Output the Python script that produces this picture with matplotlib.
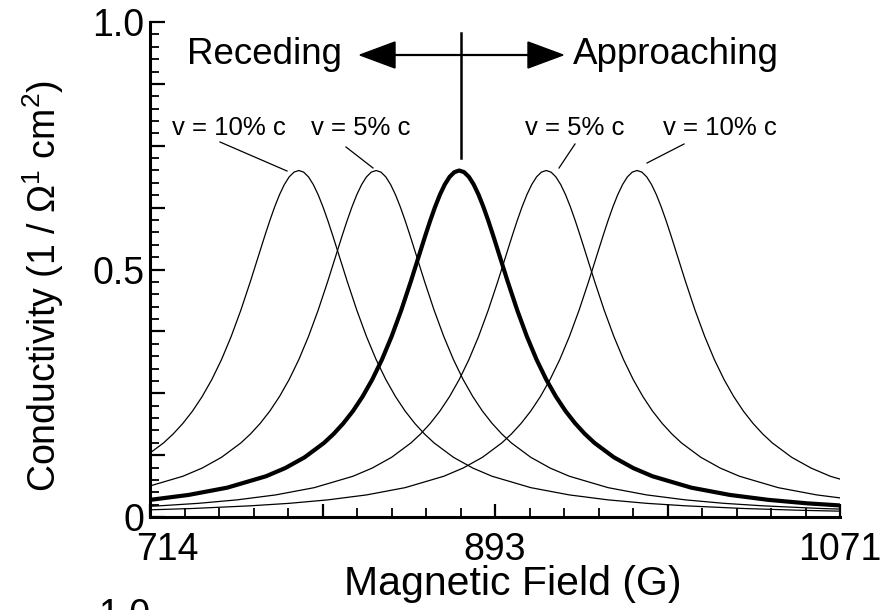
import matplotlib
matplotlib.use("Agg")
import matplotlib.pyplot as plt
import numpy as np
from matplotlib.ticker import FixedLocator
import matplotlib.transforms as mtransforms

plt.rcParams['font.family'] = ['Liberation Sans', 'DejaVu Sans']
plt.rcParams['mathtext.fontset'] = 'custom'
plt.rcParams['mathtext.rm'] = 'Liberation Sans'

# ---- data ----
# resonance line profile: offset from line centre (G) -> conductivity
profile_offset = [-290, -260, -230, -200, -180, -160, -140, -120, -100, -90, -80, -70, -65, -60,
                  -55, -50, -45, -40, -35, -30, -25, -20, -17.5, -15, -12.5, -10, -7.5, -5, -2.5,
                  0, 2.5, 5, 7.5, 10, 12.5, 15, 17.5, 20, 25, 30, 35, 40, 45, 50, 55, 60, 65,
                  70, 80, 90, 100, 120, 140, 160, 180, 200, 230, 260, 290]
profile_value_half = [0.0109, 0.0135, 0.0172, 0.0226, 0.0276, 0.0346, 0.0446, 0.0593, 0.0823,
                      0.0989, 0.1206, 0.1496, 0.1678, 0.1891, 0.2140, 0.2434, 0.2778, 0.3180,
                      0.3647, 0.4178, 0.4765, 0.5384, 0.5692, 0.5989, 0.6265, 0.6511, 0.6716,
                      0.6871, 0.6967]
profile_value = profile_value_half + [0.700] + profile_value_half[::-1]

# line centres (G): receding 10%, receding 5%, at rest, approaching 5%, approaching 10%
centres = [791, 831, 874, 919, 966]
line_widths = [0.9, 0.9, 3.0, 0.9, 0.9]
speed_labels = ["v = 10% c", "v = 5% c", None, "v = 5% c", "v = 10% c"]

x_min, x_max = 714, 1071
x_tick_labels = ['714', '', '893', '', '1071']
y_tick_labels = ['0', '', '', '', '0.5', '', '', '', '1.0']

# ---- figure ----
W, H = 894, 610
fig = plt.figure(figsize=(W / 100, H / 100), dpi=100)
L, R, B, T = 150, 840, 517, 22
ax = fig.add_axes([L / W, 1 - B / H, (R - L) / W, (B - T) / H])

off = np.array(profile_offset)
val = np.array(profile_value)
for c, lw in zip(centres, line_widths):
    ax.plot(c + off, val, color='black', lw=lw, solid_joinstyle='round')

ax.set_xlim(x_min, x_max)
ax.set_ylim(0, 1.0)

for s in ['top', 'right']:
    ax.spines[s].set_visible(False)
for s in ['left', 'bottom']:
    ax.spines[s].set_linewidth(2.2)

ax.xaxis.set_major_locator(FixedLocator(np.linspace(x_min, x_max, 5)))
ax.xaxis.set_minor_locator(FixedLocator(np.linspace(x_min, x_max, 21)))
ax.yaxis.set_major_locator(FixedLocator(np.linspace(0, 1.0, 9)))
ax.yaxis.set_minor_locator(FixedLocator(np.linspace(0, 1.0, 41)))

ax.set_xticklabels(x_tick_labels)
ax.set_yticklabels(y_tick_labels)

ax.tick_params(which='major', direction='in', length=11, width=1.6, labelsize=27)
ax.tick_params(which='minor', direction='in', length=6.5, width=1.3)
ax.tick_params(axis='x', which='major', length=9.5, pad=11)
ax.tick_params(axis='y', which='major', pad=4)

# shift first x tick label right a bit
lab0 = ax.get_xticklabels()[0]
lab0.set_transform(lab0.get_transform() + mtransforms.ScaledTranslation(17 / 100, 0, fig.dpi_scale_trans))

ax.set_xlabel('Magnetic Field (G)', fontsize=29.5)
ax.xaxis.set_label_coords((513 - L) / (R - L), (B - 584) / (B - T))
ax.xaxis.label.set_va('center')
ax.set_ylabel('Conductivity (1 / $\\mathregular{\\Omega^1}$ cm$^\\mathregular{2}$)', fontsize=27, va='center')
ax.yaxis.set_label_coords((43 - L) / (R - L), (B - 286) / (B - T))

# ---- annotations (pixel positions converted to figure coords) ----
def fx(px):
    return px / W

def fy(py):
    return 1 - py / H

fig.text(fx(187), fy(55), 'Receding', fontsize=26.5, ha='left', va='center')
fig.text(fx(573), fy(55), 'Approaching', fontsize=26.5, ha='left', va='center')
# arrows
fig.add_artist(plt.Line2D([fx(380), fx(540)], [fy(55), fy(55)], color='black', lw=1.6))
fig.add_artist(plt.Line2D([fx(460.5), fx(460.5)], [fy(33), fy(158)], color='black', lw=1.8))
fig.add_artist(plt.Polygon([[fx(360), fy(55)], [fx(395), fy(42)], [fx(395), fy(68)]],
                           closed=True, color='black'))
fig.add_artist(plt.Polygon([[fx(563), fy(55)], [fx(528), fy(42)], [fx(528), fy(68)]],
                           closed=True, color='black'))

label_pos = [(229, 128), (361, 128), None, (575, 128), (720, 128)]
leader = [((220, 142), (287, 171)), ((346, 147), (373, 168)), None,
          ((575, 144), (559, 168)), ((684, 144), (647, 163))]
for txt, pos, ld in zip(speed_labels, label_pos, leader):
    if txt is None:
        continue
    fig.text(fx(pos[0]), fy(pos[1]), txt, fontsize=18.5, ha='center', va='center')
    (x0, y0), (x1, y1) = ld
    fig.add_artist(plt.Line2D([fx(x0), fx(x1)], [fy(y0), fy(y1)], color='black', lw=0.9))

# partially visible label of the panel below
fig.text(fx(150), fy(598), '1.0', fontsize=27, ha='right', va='top')

fig.savefig('out.png', dpi=100)
